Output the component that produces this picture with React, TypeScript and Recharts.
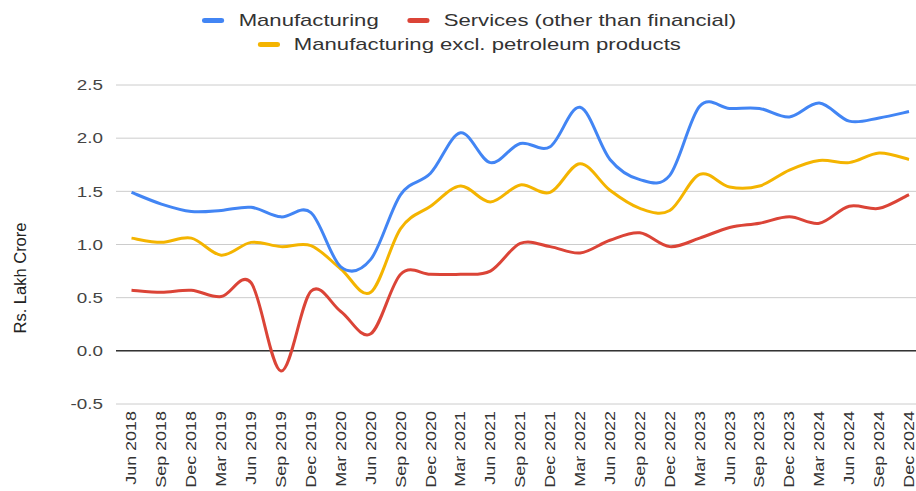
import React from 'react';
import { LineChart, Line, XAxis, YAxis, CartesianGrid, Legend, ReferenceLine } from 'recharts';

const categories = [
  'Jun 2018', 'Sep 2018', 'Dec 2018', 'Mar 2019', 'Jun 2019', 'Sep 2019', 'Dec 2019',
  'Mar 2020', 'Jun 2020', 'Sep 2020', 'Dec 2020', 'Mar 2021', 'Jun 2021', 'Sep 2021',
  'Dec 2021', 'Mar 2022', 'Jun 2022', 'Sep 2022', 'Dec 2022', 'Mar 2023', 'Jun 2023',
  'Sep 2023', 'Dec 2023', 'Mar 2024', 'Jun 2024', 'Sep 2024', 'Dec 2024',
];

const manufacturing = [
  1.49, 1.38, 1.31, 1.32, 1.35, 1.26, 1.30, 0.79, 0.86, 1.47, 1.67, 2.05, 1.77, 1.95,
  1.92, 2.29, 1.80, 1.61, 1.65, 2.30, 2.28, 2.28, 2.20, 2.33, 2.16, 2.19, 2.25,
];

const services = [
  0.57, 0.55, 0.57, 0.51, 0.64, -0.19, 0.56, 0.37, 0.16, 0.72, 0.72, 0.72, 0.75, 1.01,
  0.98, 0.92, 1.04, 1.11, 0.98, 1.06, 1.16, 1.20, 1.26, 1.20, 1.36, 1.34, 1.47,
];

const manufacturingExPetroleum = [
  1.06, 1.02, 1.06, 0.90, 1.02, 0.98, 0.99, 0.77, 0.55, 1.15, 1.36, 1.55, 1.40, 1.56,
  1.49, 1.76, 1.51, 1.34, 1.32, 1.66, 1.54, 1.55, 1.70, 1.79, 1.77, 1.86, 1.80,
];

const yTicks = [-0.5, 0, 0.5, 1.0, 1.5, 2.0, 2.5];

const seriesNames = ['Manufacturing', 'Services (other than financial)', 'Manufacturing excl. petroleum products'];
const seriesColors = ['#4285F4', '#DB4437', '#F4B400'];

const data = categories.map((c, i) => ({
  cat: c,
  mfg: manufacturing[i],
  svc: services[i],
  mfgx: manufacturingExPetroleum[i],
}));

const FONT = '"Liberation Sans", Arial, sans-serif';

// Catmull-Rom style smooth curve similar to Google Charts "function" curves
const smoothCurve = (context: any) => {
  let pts: number[][] = [];
  return {
    areaStart() {},
    areaEnd() {},
    lineStart() { pts = []; },
    point(x: number, y: number) { pts.push([+x, +y]); },
    lineEnd() {
      if (!pts.length) return;
      context.moveTo(pts[0][0], pts[0][1]);
      for (let i = 0; i < pts.length - 1; i++) {
        const p0 = pts[i - 1] || pts[i];
        const p1 = pts[i];
        const p2 = pts[i + 1];
        const p3 = pts[i + 2] || p2;
        const k = 1 / 6;
        context.bezierCurveTo(
          p1[0] + (p2[0] - p0[0]) * k, p1[1] + (p2[1] - p0[1]) * k,
          p2[0] - (p3[0] - p1[0]) * k, p2[1] - (p3[1] - p1[1]) * k,
          p2[0], p2[1]
        );
      }
    },
  };
};

const YTick = (props: any) => {
  const { x, y, payload } = props;
  return (
    <g transform={`translate(${x},${y})`}>
      <text transform="scale(1.3,1)" textAnchor="end" dy="0.36em" fill="#444" fontSize={14.5} fontFamily={FONT}>
        {Number(payload.value).toFixed(1)}
      </text>
    </g>
  );
};

const XTick = (props: any) => {
  const { x, y, payload } = props;
  return (
    <g transform={`translate(${x},${y})`}>
      <text transform="rotate(-90) scale(1.3,1)" textAnchor="end" dy="0.36em" fill="#333" fontSize={13.8} fontFamily={FONT}>
        {payload.value}
      </text>
    </g>
  );
};

const renderTitle = () => (
  <text
    x={20}
    y={278}
    transform="rotate(-90, 20, 278)"
    textAnchor="middle"
    dominantBaseline="central"
    fill="#222"
    fontSize={16.5}
    fontFamily={FONT}
  >
    Rs. Lakh Crore
  </text>
);

const LegendItem = ({ color, name, last }: { color: string; name: string; last?: boolean }) => (
  <span style={{ display: 'inline-flex', alignItems: 'center', marginRight: last ? 0 : 22 }}>
    <span style={{ display: 'inline-block', width: 17, height: 5, borderRadius: 2, background: color, marginRight: 11 }} />
    <span>{name}</span>
  </span>
);

const renderLegend = () => (
  <div style={{ position: 'relative', height: 85, width: 935, fontFamily: FONT, fontSize: 17, color: '#333', lineHeight: '21px' }}>
    <div style={{ position: 'absolute', top: 10, left: 0, width: 935, display: 'flex', justifyContent: 'center', transform: 'scaleX(1.3)', transformOrigin: '462px 0', whiteSpace: 'nowrap' }}>
      <LegendItem color={seriesColors[0]} name={seriesNames[0]} />
      <LegendItem color={seriesColors[1]} name={seriesNames[1]} last />
    </div>
    <div style={{ position: 'absolute', top: 34, left: 0, width: 935, display: 'flex', justifyContent: 'center', transform: 'scaleX(1.3)', transformOrigin: '462px 0', whiteSpace: 'nowrap' }}>
      <LegendItem color={seriesColors[2]} name={seriesNames[2]} last />
    </div>
  </div>
);

export default function App() {
  return (
    <div style={{ position: 'absolute', left: 0, top: 0, width: 916, height: 491, overflow: 'hidden', background: '#fff' }}>
      <LineChart width={935} height={505} data={data} margin={{ top: 0, right: 10.5, bottom: 0, left: 0 }}>
        <Legend
          verticalAlign="top"
          align="center"
          content={renderLegend}
          wrapperStyle={{ top: 0, left: 0, width: 935, height: 85 }}
        />
        <CartesianGrid vertical={false} stroke="#cccccc" strokeWidth={1} />
        <XAxis
          dataKey="cat"
          interval={0}
          height={101}
          axisLine={false}
          tickLine={false}
          tickSize={0}
          tickMargin={7}
          padding={{ left: 15.5, right: 15.5 }}
          tick={<XTick />}
        />
        <YAxis
          width={116}
          domain={[-0.5, 2.5]}
          ticks={yTicks}
          axisLine={false}
          tickLine={false}
          tickSize={0}
          tickMargin={13}
          tick={<YTick />}
          label={renderTitle}
        />
        <ReferenceLine y={0} stroke="#333" strokeWidth={1.5} />
        <Line dataKey="mfgx" name={seriesNames[2]} stroke={seriesColors[2]} strokeWidth={3} type={smoothCurve as any} dot={false} isAnimationActive={false} />
        <Line dataKey="svc" name={seriesNames[1]} stroke={seriesColors[1]} strokeWidth={3} type={smoothCurve as any} dot={false} isAnimationActive={false} />
        <Line dataKey="mfg" name={seriesNames[0]} stroke={seriesColors[0]} strokeWidth={3} type={smoothCurve as any} dot={false} isAnimationActive={false} />
      </LineChart>
    </div>
  );
}
